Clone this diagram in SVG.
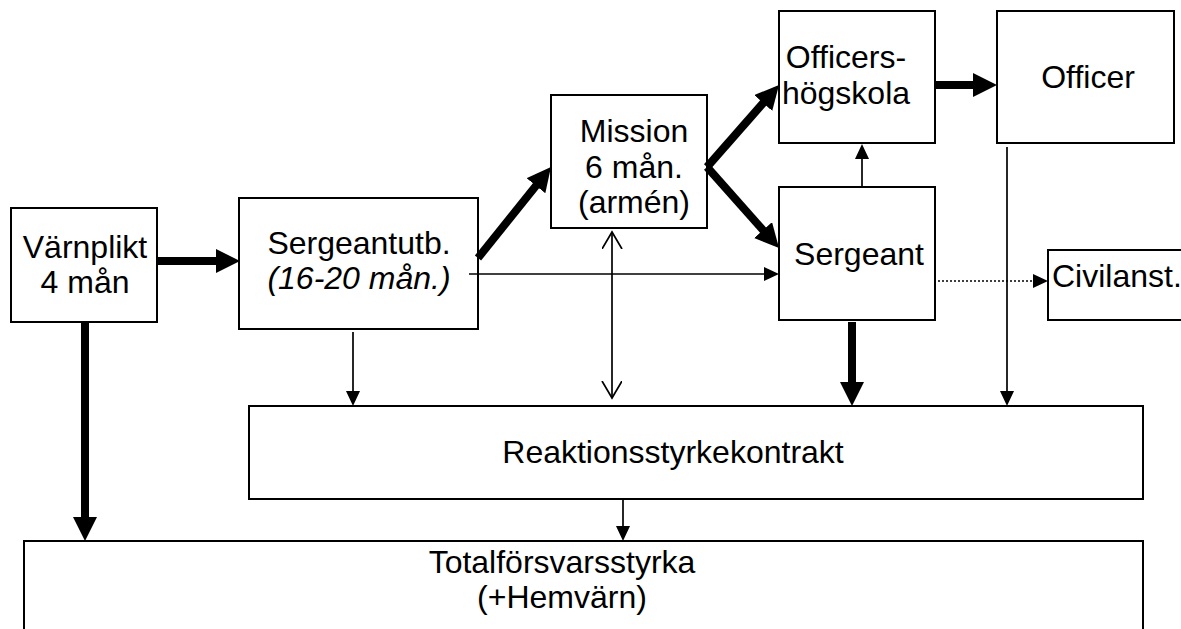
<svg xmlns="http://www.w3.org/2000/svg" width="1181" height="629" viewBox="0 0 1181 629">
<style>
.box{fill:#fff;stroke:#000;stroke-width:2}
.t{font-family:"Liberation Sans",Arial,sans-serif;font-size:32px;fill:#000}
.thick{stroke:#000;stroke-width:8;fill:none}
.thin{stroke:#000;stroke-width:1.7;fill:none}
.dot{stroke:#000;stroke-width:1.7;fill:none;stroke-dasharray:2 2}
</style>
<defs>
<marker id="ah" markerUnits="userSpaceOnUse" markerWidth="26" markerHeight="26" refX="2" refY="12" orient="auto"><path d="M0,0 L24,12 L0,24 z" fill="#000"/></marker>
<marker id="as" markerUnits="userSpaceOnUse" markerWidth="16" markerHeight="16" refX="2" refY="7" orient="auto"><path d="M0,0 L15,7 L0,14 z" fill="#000"/></marker>
<marker id="ao" markerUnits="userSpaceOnUse" markerWidth="20" markerHeight="22" refX="17" refY="10" orient="auto-start-reverse"><path d="M0,0 L17,10 L0,20" fill="none" stroke="#000" stroke-width="1.7"/></marker>
</defs>
<g id="varnplikt"><rect class="box" x="11" y="208" width="146" height="114"/><text class="t" x="85" y="258" text-anchor="middle">Värnplikt</text><text class="t" x="85" y="293" text-anchor="middle">4 mån</text></g>
<g id="sergeantutb"><rect class="box" x="239" y="198" width="239" height="131"/><text class="t" x="359" y="254" text-anchor="middle">Sergeantutb.</text><text class="t" x="359" y="289" text-anchor="middle" font-style="italic">(16-20 mån.)</text></g>
<g id="mission"><rect class="box" x="551" y="95" width="156" height="133"/><text class="t" x="634" y="142" text-anchor="middle">Mission</text><text class="t" x="634" y="178" text-anchor="middle">6 mån.</text><text class="t" x="634" y="213" text-anchor="middle">(armén)</text></g>
<g id="officershogskola"><rect class="box" x="779" y="11" width="156" height="132"/><text class="t" x="846" y="68" text-anchor="middle">Officers-</text><text class="t" x="846" y="104" text-anchor="middle">högskola</text></g>
<g id="officer"><rect class="box" x="997" y="11" width="177" height="132"/><text class="t" x="1088" y="88" text-anchor="middle">Officer</text></g>
<g id="sergeant"><rect class="box" x="779" y="187" width="156" height="133"/><text class="t" x="859" y="265" text-anchor="middle">Sergeant</text></g>
<g id="civilanst"><rect class="box" x="1048" y="250" width="140" height="70"/><text class="t" x="1052" y="287">Civilanst.</text></g>
<g id="reaktion"><rect class="box" x="249" y="406" width="894" height="93"/><text class="t" x="673" y="463" text-anchor="middle">Reaktionsstyrkekontrakt</text></g>
<g id="total"><rect class="box" x="24" y="541" width="1119" height="100"/><text class="t" x="562" y="573" text-anchor="middle">Totalförsvarsstyrka</text><text class="t" x="562" y="608" text-anchor="middle">(+Hemvärn)</text></g>
<g id="connectors">
<path class="thick" d="M157,261 H218" marker-end="url(#ah)"/>
<path class="thick" d="M85,322 V519" marker-end="url(#ah)"/>
<path class="thick" d="M478,258 L537.2,184.2" marker-end="url(#ah)"/>
<path class="thin" d="M469,274 H766" marker-end="url(#as)"/>
<path class="thick" d="M707,167 L764.5,101.5" marker-end="url(#ah)"/>
<path class="thick" d="M707,167 L764.4,231.6" marker-end="url(#ah)"/>
<path class="thick" d="M935,85 H975" marker-end="url(#ah)"/>
<path class="thin" d="M862,187 V157" marker-end="url(#as)"/>
<path class="thin" d="M1007,147 V393" marker-end="url(#as)"/>
<path class="dot" d="M938,281 H1035" marker-end="url(#as)"/>
<path class="thick" d="M852,322 V384" marker-end="url(#ah)"/>
<path class="thin" d="M353,332 V393" marker-end="url(#as)"/>
<path class="thin" d="M612,232 V398" marker-start="url(#ao)" marker-end="url(#ao)"/>
<path class="thin" d="M623,499 V528" marker-end="url(#as)"/>
</g>
</svg>
